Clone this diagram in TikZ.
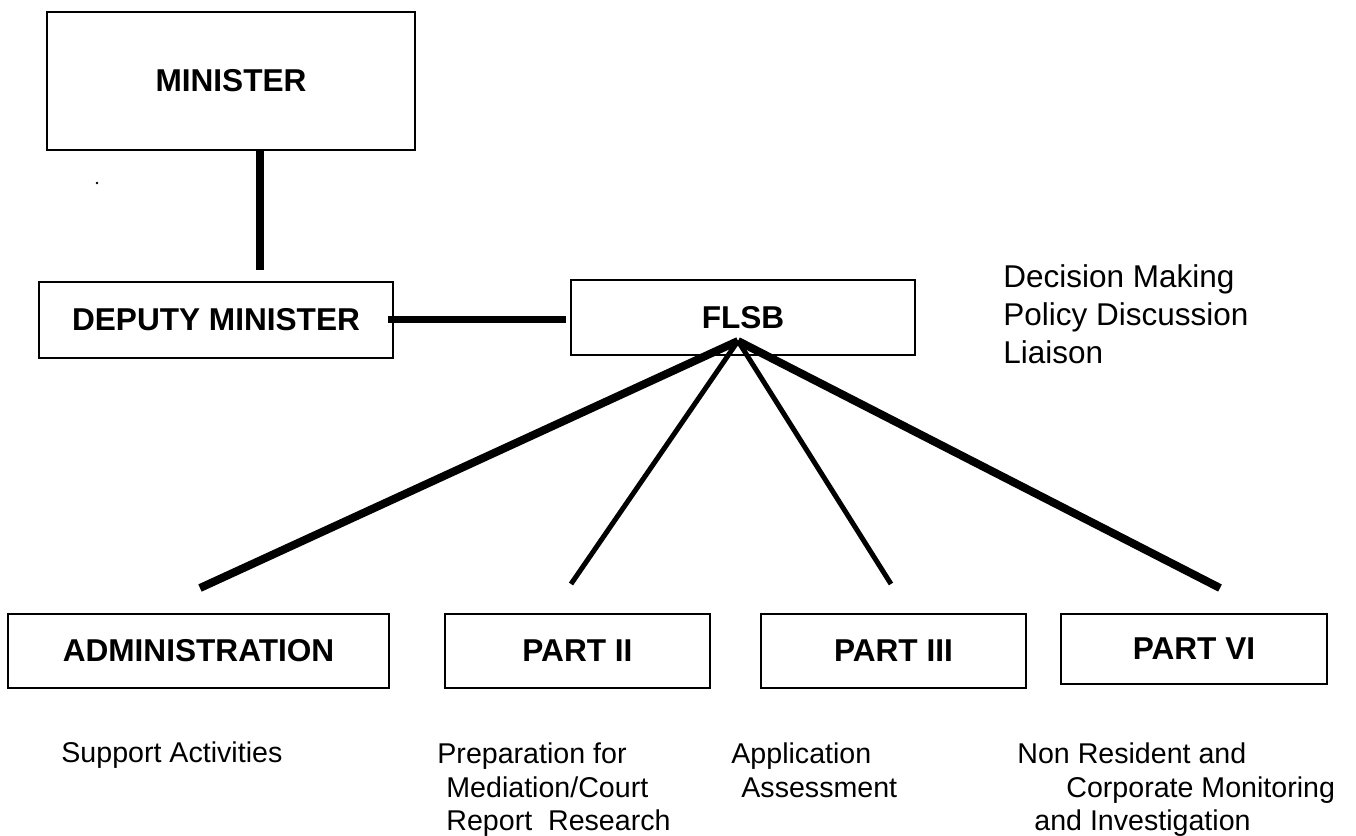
\documentclass[tikz,border=0pt]{standalone}
\usepackage{fontspec}
\setmainfont{Liberation Sans}
\begin{document}
\begin{tikzpicture}[x=0.5pt,y=-0.5pt,
  box/.style={draw,line width=1.35pt,rectangle,inner sep=0pt,
    font=\fontsize{15.8}{18}\selectfont\bfseries},
  toplbl/.style={anchor=base west,inner sep=0pt,font=\fontsize{15.75}{19}\selectfont},
  lbl/.style={anchor=base west,inner sep=0pt,font=\fontsize{14.3}{17}\selectfont},
  thickconn/.style={line width=4pt},
  thinconn/.style={line width=2.5pt}]
\fill[white] (0,0) rectangle (1356,836);
\useasboundingbox (0,0) rectangle (1356,836);

% boxes
\node[box,minimum width=184pt,minimum height=69pt] (minister) at (231,81) {MINISTER};
\node[box,minimum width=177pt,minimum height=38pt] (deputy) at (216,320) {DEPUTY MINISTER};
\node[box,minimum width=172pt,minimum height=37.5pt] (flsb) at (743,317.5) {FLSB};
\node[box,minimum width=190.5pt,minimum height=37pt] (admin) at (198.5,651) {ADMINISTRATION};
\node[box,minimum width=132.5pt,minimum height=37pt] (part2) at (577.5,651) {PART II};
\node[box,minimum width=132.5pt,minimum height=37pt] (part3) at (893.5,651) {PART III};
\node[box,minimum width=133pt,minimum height=35pt] (part6) at (1194,649) {PART VI};

% small dot
\fill (97,183) circle (0.7pt);

% connectors
\coordinate (mv) at (260,270);
\draw[line width=4pt] (minister.south -| mv) -- (mv);
\coordinate (hl) at (388,319);
\coordinate (hr) at (566,319);
\draw[line width=3.5pt] (hl) -- (hr);

\coordinate (apex) at (738,341);
\coordinate (e1) at (200,588);
\coordinate (e2) at (571,584);
\coordinate (e3) at (891,584);
\coordinate (e4) at (1220,588);
\draw[thickconn] (apex) -- (e1);
\draw[thinconn] (apex) -- (e2);
\draw[thinconn] (apex) -- (e3);
\draw[thickconn] (apex) -- (e4);

% right text
\node[toplbl] (t1) at (1003,287) {Decision Making};
\node[toplbl] (t2) at (1003,325) {Policy Discussion};
\node[toplbl] (t3) at (1003,363) {Liaison};

% bottom texts
\node[lbl] (s1) at (61,762) {Support Activities};
\node[lbl] (p1) at (437,763) {Preparation for};
\node[lbl] (p2) at (446,797) {Mediation/Court};
\node[lbl] (p3) at (446,830) {Report\ \ Research};
\node[lbl] (a1) at (731,763) {Application};
\node[lbl] (a2) at (741,797) {Assessment};
\node[lbl] (n1) at (1017,763) {Non Resident and};
\node[lbl] (n2) at (1066,797) {Corporate Monitoring};
\node[lbl] (n3) at (1034,830) {and Investigation};
\end{tikzpicture}
\end{document}
